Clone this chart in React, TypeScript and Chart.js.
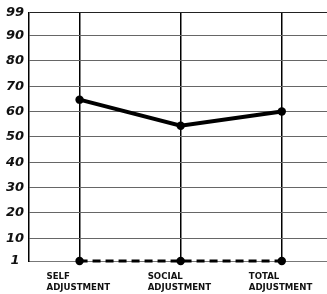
import { useEffect, useRef } from "react";
import { Chart, registerables } from "chart.js";

Chart.register(...registerables);

const categories: string[][] = [
  ["SELF", "ADJUSTMENT"],
  ["SOCIAL", "ADJUSTMENT"],
  ["TOTAL", "ADJUSTMENT"],
];
const solidValues = [64.7, 54.4, 60];
const dashedValues = [1, 1, 1];
const yTickValues = [1, 10, 20, 30, 40, 50, 60, 70, 80, 90, 99];

export default function App() {
  const ref = useRef<HTMLCanvasElement | null>(null);

  useEffect(() => {
    document.body.style.margin = "0";
    const canvas = ref.current;
    if (!canvas) return;
    const chart = new Chart(canvas, {
      type: "line",
      data: {
        datasets: [
          {
            data: categories.map((_, i) => ({ x: i, y: solidValues[i] })),
            borderColor: "#000",
            backgroundColor: "#000",
            borderWidth: 4,
            pointRadius: 4.2,
            pointBackgroundColor: "#000",
            pointBorderColor: "#000",
            pointBorderWidth: 0,
            tension: 0,
            clip: false as any,
          },
          {
            data: categories.map((_, i) => ({ x: i, y: dashedValues[i] })),
            borderColor: "#000",
            backgroundColor: "#000",
            borderWidth: 3,
            borderDash: [8, 5],
            pointRadius: 4.2,
            pointBackgroundColor: "#000",
            pointBorderColor: "#000",
            pointBorderWidth: 0,
            tension: 0,
            clip: false as any,
          },
        ],
      },
      options: {
        responsive: false,
        animation: false,
        layout: { padding: { top: 1, right: 0, left: 0, bottom: 0 } },
        plugins: { legend: { display: false }, tooltip: { enabled: false } },
        scales: {
          x: {
            type: "linear",
            min: -0.5,
            max: 2.455,
            afterBuildTicks: (s: any) => {
              s.ticks = categories.map((_, i) => ({ value: i }));
            },
            afterFit: (s: any) => {
              s.height = 33;
              s.paddingLeft = 0;
              s.paddingRight = 0;
            },
            grid: { color: "#000", lineWidth: 1.5, drawTicks: false },
            border: { display: true, color: "#777", width: 1 },
            ticks: {
              align: "start",
              labelOffset: -33,
              padding: 10,
              maxRotation: 0,
              autoSkip: false,
              color: "#111",
              font: { family: "DejaVu Sans", size: 8.6, weight: "bold", lineHeight: 1.3 },
              callback: (v: any) => categories[v as number] ?? "",
            },
          },
          y: {
            type: "linear",
            min: 1,
            max: 99,
            afterBuildTicks: (s: any) => {
              s.ticks = yTickValues.map((v) => ({ value: v }));
            },
            afterFit: (s: any) => {
              s.width = 29;
            },
            grid: {
              color: (c: any) => (c.tick && c.tick.value === 99 ? "#222" : "#666"),
              lineWidth: 1,
              drawTicks: false,
            },
            border: { display: true, color: "#000", width: 1.5 },
            ticks: {
              crossAlign: "center",
              padding: 5,
              color: "#111",
              font: { family: "DejaVu Sans", size: 13, weight: "bold", style: "italic" },
              callback: (v: any) => String(v),
            },
          },
        },
      },
    });
    return () => chart.destroy();
  }, []);

  return (
    <div style={{ width: 327, height: 294, overflow: "hidden" }}>
      <canvas ref={ref} width={332} height={294} style={{ display: "block" }} />
    </div>
  );
}
